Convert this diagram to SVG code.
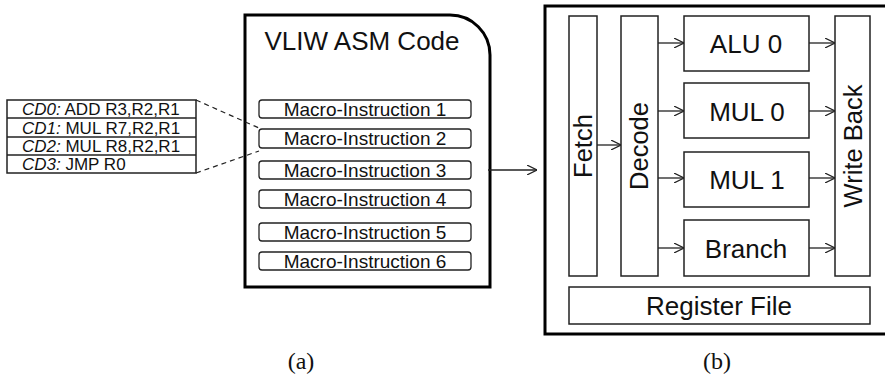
<svg xmlns="http://www.w3.org/2000/svg" width="885" height="376" viewBox="0 0 885 376">
<defs>
<marker id="arr" viewBox="0 0 10 10" refX="10" refY="5" markerWidth="10" markerHeight="10" markerUnits="userSpaceOnUse" orient="auto">
<path d="M0,0 L10,5 L0,10" fill="none" stroke="#222" stroke-width="1.2"/>
</marker>
<style>
text{font-family:"Liberation Sans",Arial,sans-serif;fill:#111}
.box{fill:#fff;stroke:#222;stroke-width:1.5}
.mbox{fill:#fff;stroke:#222;stroke-width:1.3}
.big{fill:#fff;stroke:#000;stroke-width:3}
.u{font-size:26px;text-anchor:middle}
.v{font-size:25.5px;text-anchor:middle}
.m{font-size:19px;text-anchor:middle}
.l{font-size:17px}
.cap{font-family:"Liberation Serif","Times New Roman",serif;font-size:24px;text-anchor:middle}
.c{fill:none;stroke:#222;stroke-width:1.3;marker-end:url(#arr)}
.d{fill:none;stroke:#222;stroke-width:1.2;stroke-dasharray:5,4}
</style>
</defs>

<g id="code-list">
<rect class="box" x="7" y="100" width="189" height="73"/>
<line x1="7" y1="118" x2="196" y2="118" stroke="#222" stroke-width="1.5"/>
<line x1="7" y1="137" x2="196" y2="137" stroke="#222" stroke-width="1.5"/>
<line x1="7" y1="155" x2="196" y2="155" stroke="#222" stroke-width="1.5"/>
<text class="l" x="22" y="115"><tspan font-style="italic">CD0:</tspan> ADD R3,R2,R1</text>
<text class="l" x="22" y="134"><tspan font-style="italic">CD1:</tspan> MUL R7,R2,R1</text>
<text class="l" x="22" y="152"><tspan font-style="italic">CD2:</tspan> MUL R8,R2,R1</text>
<text class="l" x="22" y="170"><tspan font-style="italic">CD3:</tspan> JMP R0</text>
</g>

<g id="vliw-code">
<path class="big" d="M245,15 H450 A40,40 0 0 1 490,55 V287 H245 Z"/>
<text x="362" y="50" font-size="26" text-anchor="middle">VLIW ASM Code</text>
<rect class="mbox" x="259" y="100" width="212" height="18" rx="3"/>
<text class="m" x="365" y="116">Macro-Instruction 1</text>
<rect class="mbox" x="259" y="129" width="212" height="19" rx="3"/>
<text class="m" x="365" y="145">Macro-Instruction 2</text>
<rect class="mbox" x="259" y="161" width="212" height="18" rx="3"/>
<text class="m" x="365" y="177">Macro-Instruction 3</text>
<rect class="mbox" x="259" y="190" width="212" height="18" rx="3"/>
<text class="m" x="365" y="206">Macro-Instruction 4</text>
<rect class="mbox" x="259" y="223" width="212" height="18" rx="3"/>
<text class="m" x="365" y="239">Macro-Instruction 5</text>
<rect class="mbox" x="259" y="252" width="212" height="18" rx="3"/>
<text class="m" x="365" y="268">Macro-Instruction 6</text>
</g>

<g id="processor">
<rect class="big" x="545" y="6" width="345" height="328"/>
</g>
<g id="fetch">
<rect class="box" x="569" y="16" width="28" height="260"/>
<text class="v" transform="translate(592,146) rotate(-90)">Fetch</text>
</g>
<g id="decode">
<rect class="box" x="621" y="16" width="37" height="260"/>
<text class="v" transform="translate(648,146) rotate(-90)">Decode</text>
</g>
<g id="alu0">
<rect class="box" x="684" y="16" width="125" height="55"/>
<text class="u" x="746" y="53">ALU 0</text>
</g>
<g id="mul0">
<rect class="box" x="684" y="83" width="125" height="55"/>
<text class="u" x="747" y="121">MUL 0</text>
</g>
<g id="mul1">
<rect class="box" x="684" y="152" width="125" height="55"/>
<text class="u" x="747" y="189">MUL 1</text>
</g>
<g id="branch">
<rect class="box" x="684" y="220" width="125" height="56"/>
<text class="u" x="746" y="258">Branch</text>
</g>
<g id="writeback">
<rect class="box" x="835" y="16" width="35" height="260"/>
<text class="v" transform="translate(862,146) rotate(-90)">Write Back</text>
</g>
<g id="regfile">
<rect class="box" x="569" y="287" width="301" height="37"/>
<text class="u" x="719" y="315">Register File</text>
</g>

<g id="connectors">
<line class="d" x1="196" y1="100" x2="259" y2="128"/>
<line class="d" x1="196" y1="173" x2="259" y2="151"/>
<line class="c" x1="488" y1="170" x2="537" y2="170" stroke="#555"/>
<line class="c" x1="597" y1="145" x2="621" y2="145"/>
<line class="c" x1="658" y1="43" x2="684" y2="43"/>
<line class="c" x1="658" y1="111" x2="684" y2="111"/>
<line class="c" x1="658" y1="178" x2="684" y2="178"/>
<line class="c" x1="658" y1="248" x2="684" y2="248"/>
<line class="c" x1="809" y1="43" x2="835" y2="43"/>
<line class="c" x1="809" y1="111" x2="835" y2="111"/>
<line class="c" x1="809" y1="178" x2="835" y2="178"/>
<line class="c" x1="809" y1="248" x2="835" y2="248"/>
</g>

<g id="captions">
<text class="cap" x="301" y="369">(a)</text>
<text class="cap" x="717" y="369">(b)</text>
</g>
</svg>
